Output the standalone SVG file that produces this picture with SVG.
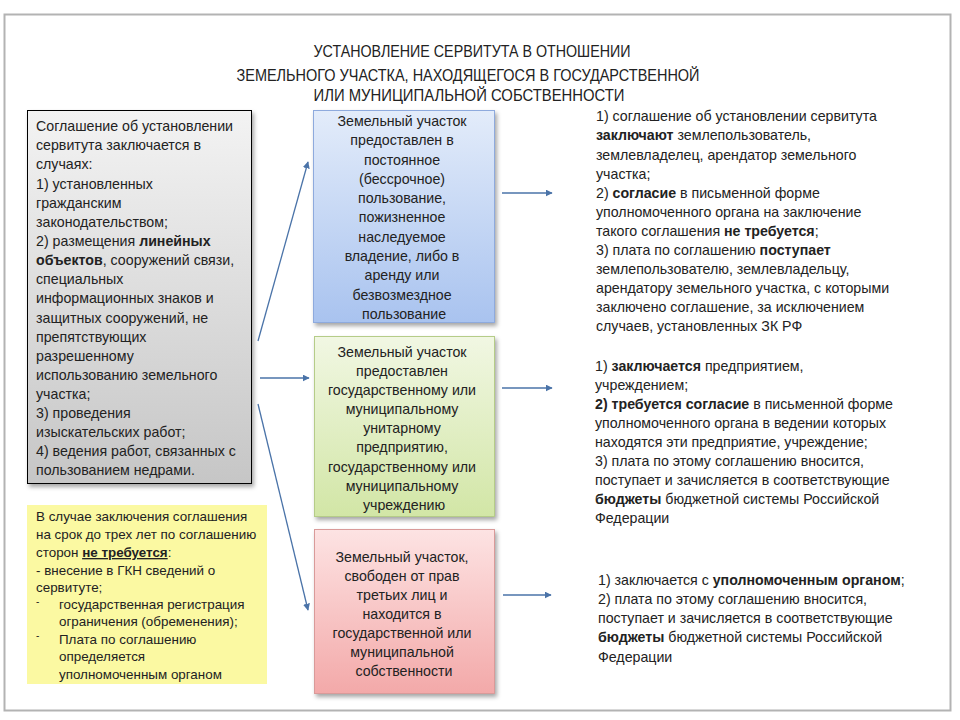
<svg xmlns="http://www.w3.org/2000/svg" width="960" height="720" viewBox="0 0 960 720">
<defs>
<linearGradient id="gGray" x1="0" y1="0" x2="0" y2="1"><stop offset="0" stop-color="#f3f3f3"/><stop offset="1" stop-color="#c6c6c6"/></linearGradient>
<linearGradient id="gBlue" x1="0" y1="0" x2="0" y2="1"><stop offset="0" stop-color="#e3ecfa"/><stop offset="1" stop-color="#a9c3ef"/></linearGradient>
<linearGradient id="gGreen" x1="0" y1="0" x2="0" y2="1"><stop offset="0" stop-color="#f1f7e3"/><stop offset="1" stop-color="#d2e6a6"/></linearGradient>
<linearGradient id="gRed" x1="0" y1="0" x2="0" y2="1"><stop offset="0" stop-color="#fde3e3"/><stop offset="1" stop-color="#f3a9a9"/></linearGradient>
<filter id="sh" x="-10%" y="-10%" width="130%" height="130%"><feDropShadow dx="2" dy="3" stdDeviation="2" flood-color="#000" flood-opacity="0.35"/></filter>
<marker id="ah" viewBox="0 0 10 10" refX="9" refY="5" markerWidth="7" markerHeight="7" orient="auto" markerUnits="userSpaceOnUse"><path d="M0,0 L10,5 L0,10 z" fill="#4a73a8"/></marker>
</defs>
<style>
text{font-family:"Liberation Sans",Arial,sans-serif;fill:#222;}
.t{font-size:16px;}
.b{font-size:14.2px;}
.y{font-size:13.4px;}
.d{font-size:10px;}
.c{text-anchor:middle;}
.bd{font-weight:bold;}
.con{stroke:#4a73a8;stroke-width:1.3;fill:none;marker-end:url(#ah);}
</style>
<rect x="0" y="0" width="960" height="720" fill="#fff"/>
<rect x="4.5" y="14.5" width="946" height="696" fill="#fff" stroke="#b3b3b3" stroke-width="2"/>

<g id="title">
<text class="t" x="472" y="57" text-anchor="middle" textLength="317" lengthAdjust="spacingAndGlyphs">УСТАНОВЛЕНИЕ СЕРВИТУТА В ОТНОШЕНИИ</text>
<text class="t" x="468" y="81" text-anchor="middle" textLength="463" lengthAdjust="spacingAndGlyphs">ЗЕМЕЛЬНОГО УЧАСТКА, НАХОДЯЩЕГОСЯ В ГОСУДАРСТВЕННОЙ</text>
<text class="t" x="469" y="101" text-anchor="middle" textLength="311" lengthAdjust="spacingAndGlyphs">ИЛИ МУНИЦИПАЛЬНОЙ СОБСТВЕННОСТИ</text>
</g>

<g id="cases">
<rect x="27.5" y="110.5" width="224" height="373" fill="url(#gGray)" stroke="#000" stroke-width="1" filter="url(#sh)"/>
<text class="b" x="36">
<tspan x="36" y="131">Соглашение об установлении</tspan>
<tspan x="36" y="150">сервитута заключается в</tspan>
<tspan x="36" y="169">случаях:</tspan>
<tspan x="36" y="189">1) установленных</tspan>
<tspan x="36" y="208">гражданским</tspan>
<tspan x="36" y="227">законодательством;</tspan>
<tspan x="36" y="246">2) размещения <tspan class="bd">линейных</tspan></tspan>
<tspan x="36" y="265"><tspan class="bd">объектов</tspan>, сооружений связи,</tspan>
<tspan x="36" y="284">специальных</tspan>
<tspan x="36" y="303">информационных знаков и</tspan>
<tspan x="36" y="323">защитных сооружений, не</tspan>
<tspan x="36" y="342">препятствующих</tspan>
<tspan x="36" y="361">разрешенному</tspan>
<tspan x="36" y="380">использованию земельного</tspan>
<tspan x="36" y="399">участка;</tspan>
<tspan x="36" y="418">3) проведения</tspan>
<tspan x="36" y="437">изыскательских работ;</tspan>
<tspan x="36" y="456">4) ведения работ, связанных с</tspan>
<tspan x="36" y="475">пользованием недрами.</tspan>
</text>
</g>

<g id="note">
<rect x="27" y="505" width="240" height="179" fill="#fbf9a2"/>
<text class="y">
<tspan x="36" y="521">В случае заключения соглашения</tspan>
<tspan x="36" y="539">на срок до трех лет по соглашению</tspan>
<tspan x="36" y="557">сторон <tspan class="bd" text-decoration="underline">не требуется</tspan>:</tspan>
<tspan x="36" y="575">- внесение в ГКН сведений о</tspan>
<tspan x="36" y="592">сервитуте;</tspan>
<tspan x="59" y="609">государственная регистрация</tspan>
<tspan x="59" y="626">ограничения (обременения);</tspan>
<tspan x="59" y="644">Плата по соглашению</tspan>
<tspan x="59" y="661">определяется</tspan>
<tspan x="59" y="679">уполномоченным органом</tspan>
</text>
<text class="d" x="36" y="605">-</text>
<text class="d" x="36" y="639">-</text>
</g>

<g id="blue">
<rect x="313.5" y="110.5" width="181" height="212" fill="url(#gBlue)" stroke="#8eaadd" stroke-width="1" filter="url(#sh)"/>
<text class="b c">
<tspan x="404" y="126">Земельный участок</tspan>
<tspan x="404" y="145">предоставлен в</tspan>
<tspan x="404" y="165">постоянное</tspan>
<tspan x="404" y="184">(бессрочное)</tspan>
<tspan x="404" y="203">пользование,</tspan>
<tspan x="404" y="222">пожизненное</tspan>
<tspan x="404" y="242">наследуемое</tspan>
<tspan x="404" y="261">владение, либо в</tspan>
<tspan x="404" y="280">аренду или</tspan>
<tspan x="404" y="300">безвозмездное</tspan>
<tspan x="404" y="319">пользование</tspan>
</text>
</g>

<g id="green">
<rect x="314.5" y="336.5" width="180" height="180" fill="url(#gGreen)" stroke="#b5cc88" stroke-width="1" filter="url(#sh)"/>
<text class="b c">
<tspan x="404" y="357">Земельный участок</tspan>
<tspan x="404" y="376">предоставлен</tspan>
<tspan x="404" y="395">государственному или</tspan>
<tspan x="404" y="414">муниципальному</tspan>
<tspan x="404" y="433">унитарному</tspan>
<tspan x="404" y="452">предприятию,</tspan>
<tspan x="404" y="472">государственному или</tspan>
<tspan x="404" y="491">муниципальному</tspan>
<tspan x="404" y="510">учреждению</tspan>
</text>
</g>

<g id="red">
<rect x="314.5" y="529.5" width="180" height="164" fill="url(#gRed)" stroke="#d99a99" stroke-width="1" filter="url(#sh)"/>
<text class="b c">
<tspan x="404" y="562">Земельный участок,</tspan>
<tspan x="404" y="581">свободен от прав</tspan>
<tspan x="404" y="600">третьих лиц и</tspan>
<tspan x="404" y="619">находится в</tspan>
<tspan x="404" y="638">государственной или</tspan>
<tspan x="404" y="657">муниципальной</tspan>
<tspan x="404" y="676">собственности</tspan>
</text>
</g>

<g id="r1">
<text class="b">
<tspan x="596" y="121">1) соглашение об установлении сервитута</tspan>
<tspan x="596" y="140"><tspan class="bd">заключают</tspan> землепользователь,</tspan>
<tspan x="596" y="160">землевладелец, арендатор земельного</tspan>
<tspan x="596" y="179">участка;</tspan>
<tspan x="596" y="198">2) <tspan class="bd">согласие</tspan> в письменной форме</tspan>
<tspan x="596" y="217">уполномоченного органа на заключение</tspan>
<tspan x="596" y="236">такого соглашения <tspan class="bd">не требуется</tspan>;</tspan>
<tspan x="596" y="255">3) плата по соглашению <tspan class="bd">поступает</tspan></tspan>
<tspan x="596" y="274">землепользователю, землевладельцу,</tspan>
<tspan x="596" y="293">арендатору земельного участка, с которыми</tspan>
<tspan x="596" y="312">заключено соглашение, за исключением</tspan>
<tspan x="596" y="331">случаев, установленных ЗК РФ</tspan>
</text>
</g>

<g id="r2">
<text class="b">
<tspan x="595" y="371">1) <tspan class="bd">заключается</tspan> предприятием,</tspan>
<tspan x="595" y="390">учреждением;</tspan>
<tspan x="595" y="409"><tspan class="bd">2) требуется согласие</tspan> в письменной форме</tspan>
<tspan x="595" y="428">уполномоченного органа в ведении которых</tspan>
<tspan x="595" y="447">находятся эти предприятие, учреждение;</tspan>
<tspan x="595" y="466">3) плата по этому соглашению вносится,</tspan>
<tspan x="595" y="485">поступает и зачисляется в соответствующие</tspan>
<tspan x="595" y="504"><tspan class="bd">бюджеты</tspan> бюджетной системы Российской</tspan>
<tspan x="595" y="523">Федерации</tspan>
</text>
</g>

<g id="r3">
<text class="b">
<tspan x="598" y="585">1) заключается с <tspan class="bd">уполномоченным органом</tspan>;</tspan>
<tspan x="598" y="604">2) плата по этому соглашению вносится,</tspan>
<tspan x="598" y="623">поступает и зачисляется в соответствующие</tspan>
<tspan x="598" y="642"><tspan class="bd">бюджеты</tspan> бюджетной системы Российской</tspan>
<tspan x="598" y="662">Федерации</tspan>
</text>
</g>

<g id="connectors">
<line class="con" x1="258" y1="341" x2="308" y2="162"/>
<line class="con" x1="260" y1="378" x2="309" y2="378"/>
<line class="con" x1="258" y1="404" x2="308" y2="610"/>
<line class="con" x1="502" y1="193" x2="552" y2="193"/>
<line class="con" x1="502" y1="388" x2="552" y2="388"/>
<line class="con" x1="503" y1="595" x2="551" y2="595"/>
</g>
</svg>
